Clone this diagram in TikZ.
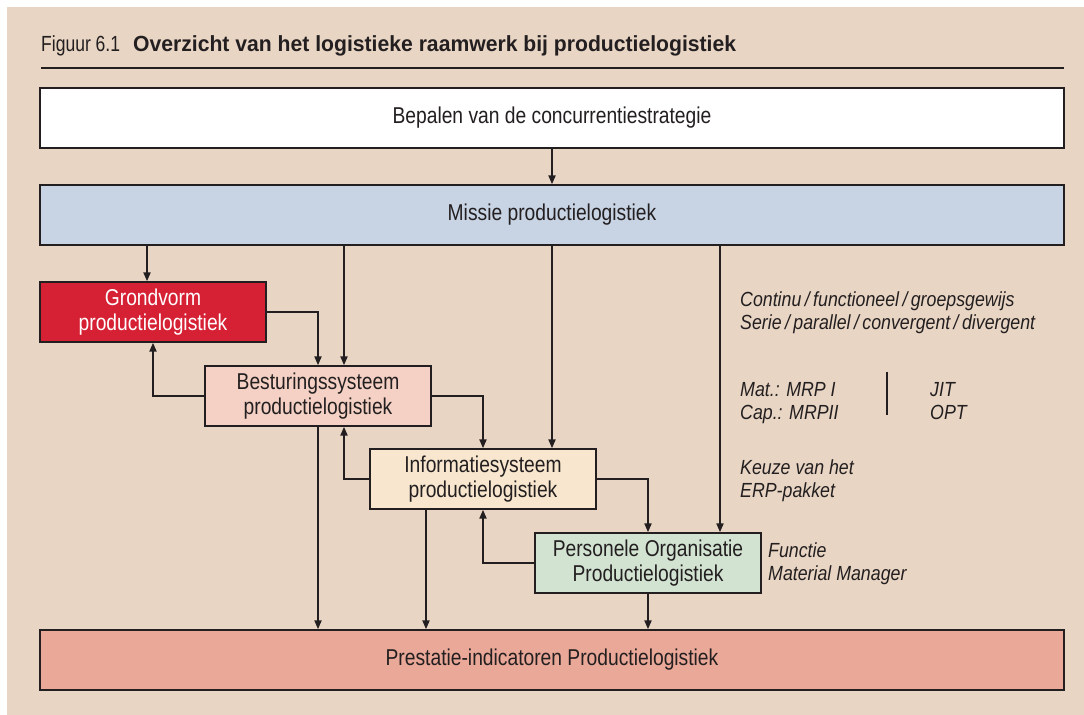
\documentclass[tikz,border=0pt]{standalone}
\usepackage{fontspec}
\setmainfont{Liberation Sans}[FakeStretch=0.84]
\newfontfamily\capfont{Liberation Sans}[FakeStretch=0.80]
\newfontfamily\capboldfont{Liberation Sans Bold}[FakeStretch=0.965]
\newfontfamily\notefont{Liberation Sans Italic}[FakeStretch=0.87]
\usetikzlibrary{arrows.meta,calc}
\definecolor{panel}{HTML}{E8D5C4}
\definecolor{ink}{HTML}{231F20}
\definecolor{missiefill}{HTML}{C8D4E4}
\definecolor{grondfill}{HTML}{D62034}
\definecolor{bestfill}{HTML}{F4D1C4}
\definecolor{infofill}{HTML}{F8E7CE}
\definecolor{persfill}{HTML}{D2E3D2}
\definecolor{prestfill}{HTML}{EAA898}
\tikzset{
  box/.style={draw=ink, line width=1.4bp, minimum height=60bp, inner sep=0pt,
    text=ink, align=center, font=\fontsize{23}{25}\selectfont},
  widebox/.style={box, minimum width=1024bp},
  smallbox/.style={box, minimum width=226bp},
  arr/.style={draw=ink, line width=2bp, -{Triangle[length=9bp,width=7bp]}},
  note/.style={anchor=base west, inner sep=0pt, text=ink,
    font=\fontsize{20.5}{23}\notefont}
}
\begin{document}
\begin{tikzpicture}[x=1bp,y=-1bp]
  % page and panel
  \fill[white] (0,0) rectangle (1084,715);
  \fill[panel] (7,7) rectangle (1084,715);
  \useasboundingbox (0,0) rectangle (1084,715);

  % caption and rule
  \node[anchor=base west, inner sep=0pt, text=ink, font=\fontsize{22}{24}\capfont]
    (caption) at (41,52) {Figuur 6.1\hspace{13bp}{\capboldfont Overzicht van het logistieke raamwerk bij productielogistiek}};
  \draw[ink, line width=2.2bp] (41,68) -- (1064,68);

  % boxes
  \node[widebox, fill=white] (strat) at (552,118) {Bepalen van de concurrentiestrategie};
  \node[widebox, fill=missiefill] (missie) at (552,215) {Missie productielogistiek};
  \node[smallbox, fill=grondfill, text=white] (grond) at (153,312) {Grondvorm\\productielogistiek};
  \node[smallbox, fill=bestfill] (best) at (318,396) {Besturingssysteem\\productielogistiek};
  \node[smallbox, fill=infofill] (info) at (483,479) {Informatiesysteem\\productielogistiek};
  \node[smallbox, fill=persfill] (pers) at (648,563) {Personele Organisatie\\Productielogistiek};
  \node[widebox, fill=prestfill] (prest) at (552,660) {Prestatie-indicatoren Productielogistiek};

  % connectors from the mission
  \draw[arr] (strat.south) -- (missie.north);
  \draw[arr] ([xshift=-6bp]grond.north |- missie.south) -- ([xshift=-6bp]grond.north);
  \draw[arr] ([xshift=26bp]best.north |- missie.south) -- ([xshift=26bp]best.north);
  \draw[arr] (missie.south) -- (missie.south |- info.north);
  \draw[arr] ([xshift=72bp]pers.north |- missie.south) -- ([xshift=72bp]pers.north);

  % forward and feedback links between the stages
  \draw[arr] (grond.east) -| (best.north);
  \draw[arr] (best.west) -| (grond.south);
  \draw[arr] (best.east) -| (info.north);
  \draw[arr] (info.west) -| ([xshift=26bp]best.south);
  \draw[arr] (info.east) -| (pers.north);
  \draw[arr] (pers.west) -| (info.south);

  % links to the performance indicators
  \draw[arr] (best.south) -- (best.south |- prest.north);
  \draw[arr] ([xshift=-57bp]info.south) -- ([xshift=-57bp]info.south |- prest.north);
  \draw[arr] (pers.south) -- (pers.south |- prest.north);

  % annotations
  \node[note] (n1) at (740,306) {Continu\,/\,functioneel\,/\,groepsgewijs};
  \node[note] (n2) at (740,329) {Serie\,/\,parallel\,/\,convergent\,/\,divergent};
  \node[note] (n3) at (740,396) {Mat.: MRP I};
  \node[note] (n4) at (740,419) {Cap.: MRPII};
  \node[note] (n5) at (930,396) {JIT};
  \node[note] (n6) at (930,419) {OPT};
  \draw[ink, line width=1.6bp] (887,372) -- (887,415);
  \node[note] (n7) at (740,474) {Keuze van het};
  \node[note] (n8) at (740,497) {ERP-pakket};
  \node[note] (n9) at (768,557) {Functie};
  \node[note] (n10) at (768,580) {Material Manager};
\end{tikzpicture}
\end{document}
